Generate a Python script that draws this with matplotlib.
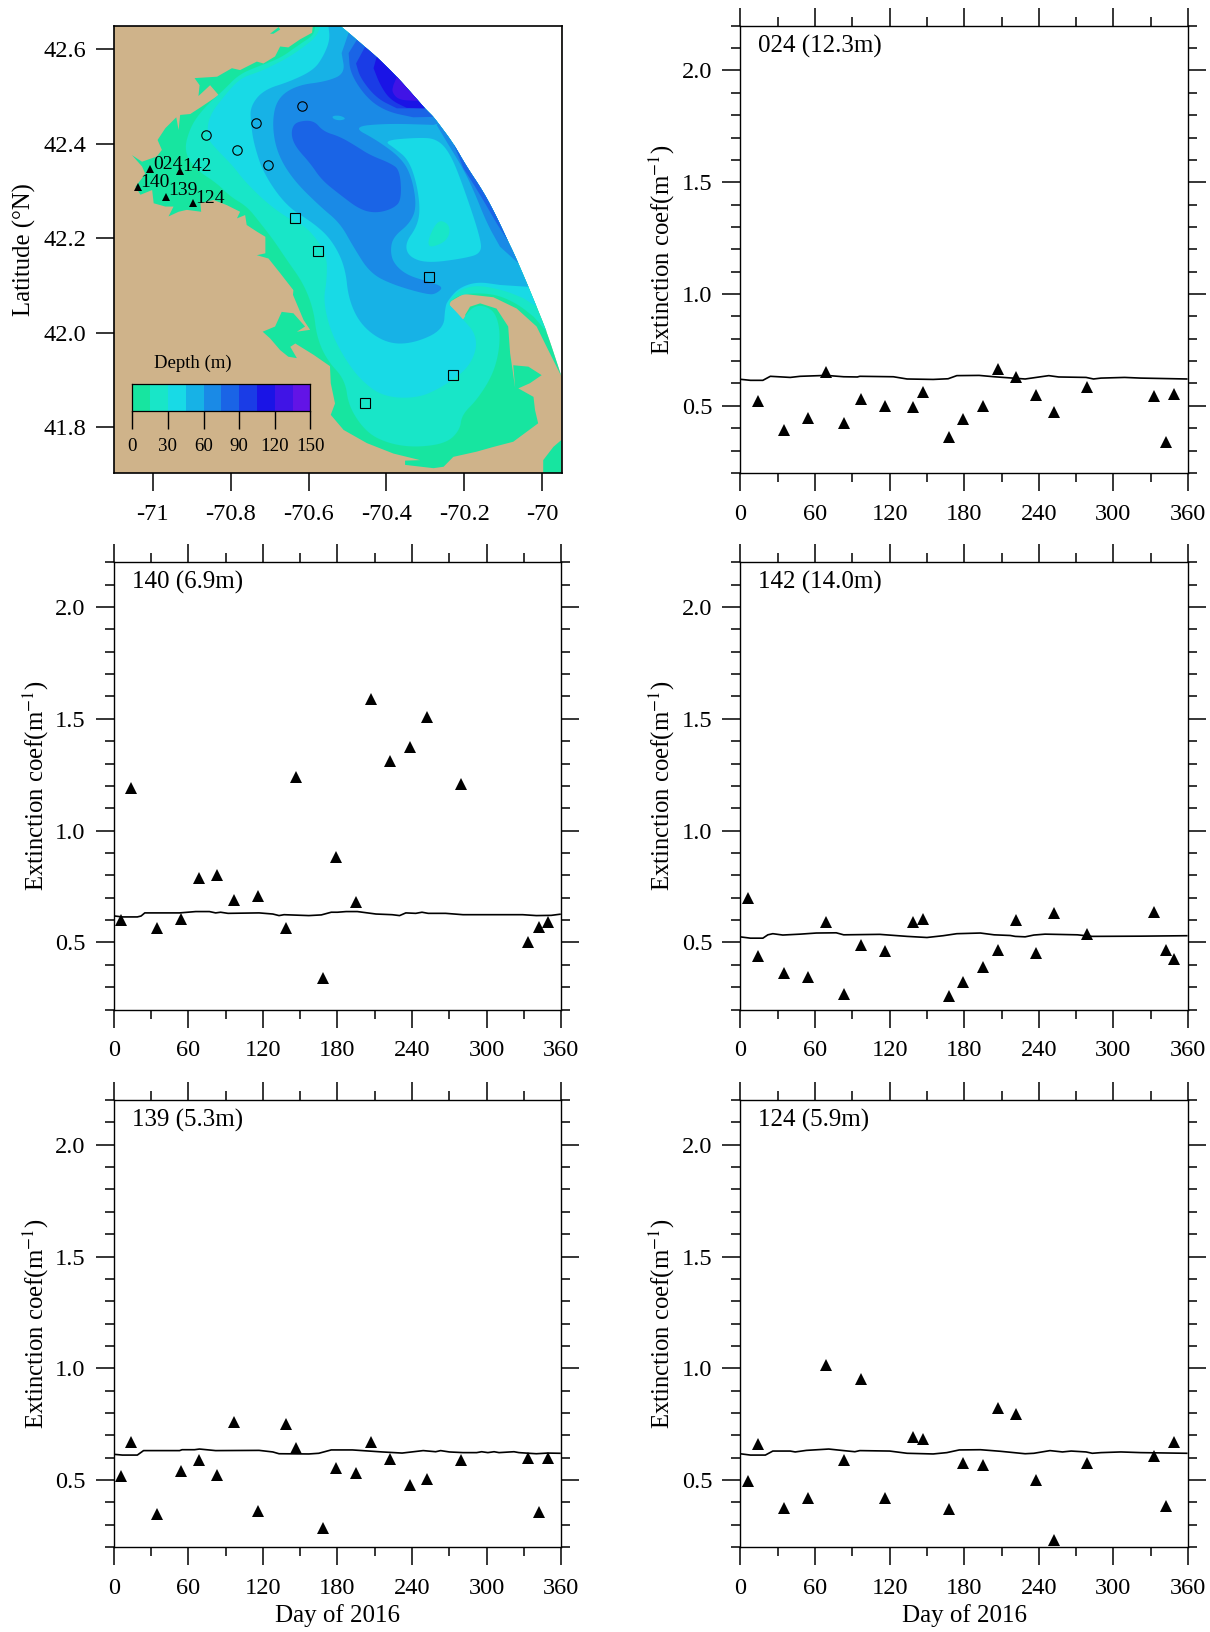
#!/usr/bin/env python3
# -*- coding:utf-8 -*-
from matplotlib import pyplot as plt
from matplotlib.colors import ListedColormap, BoundaryNorm
import numpy as np

plt.rcParams['font.family'] = ['Liberation Serif', 'DejaVu Serif']
plt.rcParams['mathtext.fontset'] = 'stix'
plt.rcParams['axes.unicode_minus'] = False

LAND = '#CFB38A'
depth_levels = [0, 15, 30, 45, 60, 75, 90, 105, 120, 135, 150]
depth_ticks = [0, 30, 60, 90, 120, 150]
depth_colors = ['#17E5A0', '#18E6C8', '#18DAE6', '#17B2E6', '#1A8AE6',
                '#1A64E6', '#1A3CE6', '#1A14E6', '#4014E6', '#6214E6']

# model domain boundary, north to south
arc = [(-70.519, 42.65), (-70.497, 42.635), (-70.476, 42.620), (-70.455, 42.605), (-70.425, 42.584),
       (-70.373, 42.542), (-70.318, 42.491), (-70.301, 42.475), (-70.279, 42.457), (-70.266, 42.443),
       (-70.228, 42.401), (-70.194, 42.352), (-70.151, 42.299), (-70.117, 42.246), (-70.087, 42.193),
       (-70.074, 42.171), (-70.061, 42.147), (-70.035, 42.097), (-70.014, 42.055), (-69.988, 42.002),
       (-69.950, 41.907)]

# shoreline, from the tip of the cape round the bays and back north
coast = [(-69.984, 41.963), (-70.014, 42.013), (-70.065, 42.051), (-70.125, 42.075), (-70.202, 42.082),
         (-70.242, 42.063), (-70.228, 42.048), (-70.206, 42.023), (-70.181, 42.020), (-70.168, 42.030),
         (-70.189, 42.030), (-70.198, 42.037), (-70.185, 42.055), (-70.159, 42.062), (-70.117, 42.051),
         (-70.087, 42.013), (-70.082, 41.956), (-70.069, 41.882), (-70.074, 41.931), (-70.035, 41.928),
         (-70.001, 41.910), (-70.031, 41.893), (-70.061, 41.882), (-70.022, 41.864), (-70.018, 41.836),
         (-70.010, 41.808), (-70.074, 41.769), (-70.125, 41.758), (-70.168, 41.748), (-70.228, 41.737),
         (-70.253, 41.716), (-70.279, 41.713), (-70.352, 41.720), (-70.352, 41.729), (-70.313, 41.730),
         (-70.382, 41.744), (-70.450, 41.766), (-70.510, 41.794), (-70.543, 41.826), (-70.532, 41.850),
         (-70.543, 41.893), (-70.545, 41.929), (-70.587, 41.953), (-70.634, 41.977), (-70.647, 41.970),
         (-70.630, 41.946), (-70.652, 41.949), (-70.673, 41.963), (-70.699, 41.988), (-70.718, 42.002),
         (-70.686, 42.013), (-70.669, 42.044), (-70.639, 42.041), (-70.609, 42.013), (-70.630, 42.002),
         (-70.596, 42.006), (-70.613, 42.027), (-70.640, 42.080), (-70.639, 42.090), (-70.673, 42.126),
         (-70.703, 42.157), (-70.733, 42.164), (-70.711, 42.168), (-70.711, 42.203), (-70.733, 42.214),
         (-70.759, 42.228), (-70.763, 42.249), (-70.784, 42.242), (-70.776, 42.256), (-70.810, 42.270),
         (-70.844, 42.281), (-70.878, 42.274), (-70.876, 42.256), (-70.913, 42.260), (-70.934, 42.256),
         (-70.960, 42.246), (-70.947, 42.267), (-70.968, 42.267), (-70.998, 42.274), (-71.002, 42.302),
         (-71.032, 42.292), (-71.045, 42.309), (-71.028, 42.327), (-71.020, 42.337), (-71.028, 42.352),
         (-71.054, 42.376), (-71.028, 42.362), (-70.990, 42.373), (-70.977, 42.387), (-70.988, 42.408),
         (-70.968, 42.433), (-70.940, 42.456), (-70.934, 42.429), (-70.930, 42.461), (-70.904, 42.463),
         (-70.874, 42.479), (-70.831, 42.503), (-70.853, 42.524), (-70.883, 42.501), (-70.880, 42.524),
         (-70.893, 42.539), (-70.835, 42.542), (-70.797, 42.560), (-70.776, 42.556), (-70.733, 42.574),
         (-70.716, 42.570), (-70.686, 42.585), (-70.673, 42.606), (-70.652, 42.604), (-70.622, 42.621),
         (-70.591, 42.635), (-70.589, 42.65)]
patch_se = [(-69.997, 41.70), (-69.997, 41.730), (-69.971, 41.758), (-69.950, 41.773), (-69.950, 41.70)]
patch_top = [(-70.699, 42.633), (-70.677, 42.647), (-70.673, 42.642), (-70.690, 42.633)]

edge_15 = [(-70.583, 42.65), (-70.587, 42.630), (-70.626, 42.609), (-70.673, 42.581), (-70.733, 42.563),
           (-70.780, 42.546), (-70.818, 42.514), (-70.870, 42.475), (-70.904, 42.436), (-70.921, 42.383),
           (-70.887, 42.344), (-70.835, 42.316), (-70.801, 42.288), (-70.758, 42.267), (-70.724, 42.232),
           (-70.690, 42.196), (-70.656, 42.154), (-70.613, 42.104), (-70.587, 42.048), (-70.579, 41.991),
           (-70.553, 41.942), (-70.506, 41.900), (-70.497, 41.843), (-70.450, 41.787), (-70.390, 41.764),
           (-70.322, 41.757), (-70.245, 41.766), (-70.211, 41.794), (-70.206, 41.826), (-70.168, 41.857),
           (-70.129, 41.907), (-70.111, 41.956), (-70.108, 42.006), (-70.121, 42.044), (-70.151, 42.058),
           (-70.176, 42.055), (-70.195, 42.039), (-70.206, 42.023), (-70.228, 42.048), (-70.242, 42.063),
           (-70.206, 42.083), (-70.125, 42.083), (-70.065, 42.062), (-70.022, 42.034)]
edge_30 = [(-70.570, 42.65), (-70.579, 42.627), (-70.622, 42.599), (-70.664, 42.577), (-70.724, 42.553),
           (-70.776, 42.539), (-70.818, 42.500), (-70.857, 42.457), (-70.861, 42.412), (-70.835, 42.387),
           (-70.793, 42.352), (-70.767, 42.323), (-70.707, 42.274), (-70.647, 42.239), (-70.604, 42.224),
           (-70.553, 42.168), (-70.553, 42.111), (-70.562, 42.069), (-70.545, 42.006), (-70.510, 41.949),
           (-70.467, 41.900), (-70.408, 41.864), (-70.322, 41.861), (-70.262, 41.882), (-70.194, 41.921),
           (-70.168, 41.963), (-70.172, 41.999), (-70.202, 42.027), (-70.228, 42.051), (-70.245, 42.062),
           (-70.215, 42.090), (-70.168, 42.101), (-70.099, 42.090), (-70.048, 42.073)]
edge_45 = [(-70.549, 42.65), (-70.545, 42.620), (-70.562, 42.585), (-70.587, 42.556), (-70.647, 42.532),
           (-70.716, 42.514), (-70.750, 42.479), (-70.748, 42.443), (-70.741, 42.401), (-70.716, 42.337),
           (-70.656, 42.267), (-70.587, 42.232), (-70.540, 42.196), (-70.506, 42.140), (-70.497, 42.069),
           (-70.463, 42.013), (-70.399, 41.977), (-70.331, 41.977), (-70.253, 42.006), (-70.249, 42.055),
           (-70.241, 42.069), (-70.215, 42.094), (-70.168, 42.108), (-70.108, 42.101)]
edge_60 = [(-70.279, 42.440), (-70.399, 42.443), (-70.489, 42.436), (-70.425, 42.408), (-70.361, 42.369),
           (-70.335, 42.330), (-70.322, 42.267), (-70.339, 42.232), (-70.382, 42.203), (-70.390, 42.175),
           (-70.382, 42.147), (-70.348, 42.122), (-70.292, 42.108), (-70.253, 42.097), (-70.271, 42.083),
           (-70.292, 42.080), (-70.382, 42.101), (-70.442, 42.126), (-70.485, 42.182), (-70.519, 42.232),
           (-70.570, 42.267), (-70.639, 42.323), (-70.681, 42.380), (-70.694, 42.443), (-70.681, 42.496),
           (-70.630, 42.524), (-70.553, 42.532), (-70.506, 42.549), (-70.515, 42.592)]
east_60 = [(-70.108, 42.182), (-70.142, 42.232), (-70.176, 42.302), (-70.206, 42.352), (-70.245, 42.404),
           (-70.271, 42.440)]
east_75 = [(-70.117, 42.232), (-70.159, 42.292), (-70.202, 42.348)]
basin_75 = [(-70.643, 42.433), (-70.630, 42.447), (-70.587, 42.450), (-70.562, 42.426), (-70.519, 42.415),
            (-70.476, 42.394), (-70.442, 42.376), (-70.390, 42.359), (-70.365, 42.344), (-70.361, 42.281),
            (-70.382, 42.263), (-70.425, 42.253), (-70.467, 42.260), (-70.519, 42.292), (-70.566, 42.323),
            (-70.596, 42.359), (-70.630, 42.390), (-70.643, 42.412)]
north_75 = [(-70.331, 42.456), (-70.399, 42.468), (-70.450, 42.496), (-70.493, 42.549), (-70.497, 42.592)]
north_90 = [(-70.373, 42.475), (-70.425, 42.496), (-70.467, 42.539), (-70.478, 42.570)]
north_105 = [(-70.348, 42.476), (-70.390, 42.493), (-70.416, 42.524), (-70.433, 42.560)]
north_120 = [(-70.326, 42.491), (-70.369, 42.493), (-70.386, 42.510), (-70.382, 42.524)]
spot_45 = [(-70.540, 42.459), (-70.519, 42.460), (-70.503, 42.453), (-70.519, 42.449), (-70.536, 42.452)]
bank_30 = [(-70.408, 42.407), (-70.322, 42.413), (-70.271, 42.411), (-70.236, 42.380), (-70.202, 42.309),
           (-70.159, 42.203), (-70.155, 42.168), (-70.202, 42.157), (-70.296, 42.147), (-70.343, 42.161),
           (-70.352, 42.189), (-70.322, 42.224), (-70.313, 42.260), (-70.322, 42.316), (-70.343, 42.366),
           (-70.378, 42.390)]
bank_15 = [(-70.301, 42.178), (-70.271, 42.239), (-70.241, 42.232), (-70.236, 42.210), (-70.253, 42.189)]

circle_lon = [-70.617, -70.736, -70.864, -70.785, -70.705]
circle_lat = [42.479, 42.443, 42.419, 42.387, 42.356]
square_lon = [-70.636, -70.576, -70.290, -70.228, -70.454]
square_lat = [42.243, 42.172, 42.117, 41.910, 41.851]
station_names = ['024', '142', '140', '139', '124']
station_lon = [-71.008, -70.931, -71.039, -70.967, -70.896]
station_lat = [42.347, 42.342, 42.308, 42.288, 42.275]
station_text_lon = [-71.000, -70.924, -71.033, -70.960, -70.890]
station_text_lat = [42.357, 42.351, 42.319, 42.300, 42.284]

lat_ticks = [41.8, 42.0, 42.2, 42.4, 42.6]
lon_ticks = [-71, -70.8, -70.6, -70.4, -70.2, -70]
lon_labels = ['-71', '-70.8', '-70.6', '-70.4', '-70.2', '-70']

days = [6, 14, 35, 54, 69, 83, 97, 116, 139, 147, 168, 179, 195, 207, 222, 238, 252, 279, 333, 342, 349]

obs_024 = [0.522, 0.392, 0.445, 0.651, 0.424, 0.530, 0.500, 0.494, 0.560, 0.360, 0.439, 0.500, 0.665,
           0.629, 0.550, 0.473, 0.582, 0.545, 0.338, 0.554]
obs_140 = [0.600, 1.190, 0.566, 0.605, 0.790, 0.803, 0.690, 0.708, 0.563, 1.239, 0.341, 0.884, 0.680,
           1.587, 1.311, 1.374, 1.506, 1.209, 0.500, 0.570, 0.590]
obs_142 = [0.700, 0.440, 0.362, 0.346, 0.593, 0.268, 0.490, 0.461, 0.590, 0.606, 0.260, 0.325, 0.392,
           0.467, 0.600, 0.454, 0.630, 0.537, 0.636, 0.467, 0.426]
obs_139 = [0.518, 0.672, 0.347, 0.540, 0.591, 0.525, 0.760, 0.360, 0.749, 0.645, 0.287, 0.555, 0.530,
           0.671, 0.593, 0.480, 0.507, 0.590, 0.600, 0.359, 0.600]
obs_124 = [0.497, 0.662, 0.377, 0.422, 1.017, 0.590, 0.954, 0.420, 0.692, 0.684, 0.370, 0.575, 0.569,
           0.824, 0.794, 0.500, 0.230, 0.575, 0.610, 0.385, 0.670]

model_024_d = [1, 8, 18, 24, 40, 48, 69, 83, 94, 96, 123, 134, 155, 167, 174, 192, 204, 229, 248, 256, 278,
               284, 290, 309, 322, 359]
model_024 = [.618, .614, .614, .632, .627, .632, .636, .630, .629, .632, .630, .620, .618, .621, .635, .636,
             .630, .620, .635, .629, .627, .620, .624, .627, .624, .620]
model_140_d = [1, 7, 19, 22, 25, 53, 66, 77, 82, 86, 92, 117, 128, 133, 137, 157, 167, 175, 180, 187, 196,
               211, 224, 230, 235, 243, 248, 253, 267, 281, 329, 340, 352, 359]
model_140 = [.618, .614, .614, .618, .632, .632, .638, .638, .632, .635, .630, .632, .627, .620, .624, .620,
             .623, .635, .635, .638, .638, .627, .624, .620, .632, .630, .635, .630, .630, .624, .624, .620,
             .621, .626]
model_142_d = [1, 8, 18, 22, 26, 34, 48, 61, 77, 83, 112, 134, 150, 163, 174, 193, 204, 217, 221, 229, 236,
               245, 271, 283, 322, 359]
model_142 = [.524, .519, .519, .534, .539, .533, .537, .542, .543, .534, .536, .527, .522, .530, .539, .542,
             .534, .531, .527, .525, .533, .537, .534, .527, .528, .530]
model_139_d = [1, 7, 19, 24, 53, 55, 65, 69, 82, 117, 128, 133, 157, 165, 175, 192, 216, 232, 249, 259, 263,
               270, 281, 292, 296, 301, 306, 310, 322, 326, 340, 349, 359]
model_139 = [.615, .612, .612, .632, .632, .636, .636, .639, .632, .633, .626, .618, .617, .620, .635, .635,
             .626, .621, .632, .627, .632, .626, .623, .623, .627, .623, .627, .623, .627, .623, .618, .621,
             .620]
model_124_d = [1, 8, 20, 26, 40, 44, 53, 71, 83, 92, 96, 120, 134, 155, 166, 176, 193, 209, 229, 236, 249,
               259, 266, 278, 283, 290, 306, 322, 359]
model_124 = [.617, .612, .612, .630, .630, .626, .633, .639, .632, .627, .632, .630, .620, .617, .623, .635,
             .636, .629, .618, .620, .632, .626, .630, .626, .620, .623, .626, .623, .620]

panels = [('024 (12.3m)', days[1:], obs_024, model_024_d, model_024, 740.5, 25.7, False),
          ('140 (6.9m)', days, obs_140, model_140_d, model_140, 113.7, 562.3, False),
          ('142 (14.0m)', days, obs_142, model_142_d, model_142, 740.5, 562.3, False),
          ('139 (5.3m)', days, obs_139, model_139_d, model_139, 113.7, 1100, True),
          ('124 (5.9m)', days, obs_124, model_124_d, model_124, 740.5, 1100, True)]

W, H = 1210, 1632
fig = plt.figure(figsize=(W / 100, H / 100), dpi=100)


def add_axes(left, top, width=447.5, height=447.2):
    return fig.add_axes([left / W, 1 - (top + height) / H, width / W, height / H])


def fill(ax, points, color):
    xs, ys = zip(*points)
    ax.fill(xs, ys, color=color, lw=0)


def smooth(points, closed=False, rounds=3):
    # corner cutting, so the contour edges do not look like polygons
    pts = np.array(points + points[:1] if closed else points)
    for _ in range(rounds):
        a = pts[:-1] * 0.75 + pts[1:] * 0.25
        b = pts[:-1] * 0.25 + pts[1:] * 0.75
        mid = np.empty((len(a) * 2, 2))
        mid[0::2] = a
        mid[1::2] = b
        pts = mid if closed else np.vstack([pts[:1], mid, pts[-1:]])
        if closed:
            pts = np.vstack([pts, pts[:1]])
    return [tuple(p) for p in pts]


# map
ax = add_axes(114, 25.7)
ax.set_facecolor(LAND)
fill(ax, smooth(arc) + [(-69.95, 42.65)], 'white')
fill(ax, [(-70.589, 42.65)] + smooth(arc) + coast, depth_colors[0])
fill(ax, patch_se, depth_colors[0])
fill(ax, patch_top, depth_colors[0])
fill(ax, smooth(edge_15) + smooth(arc[19::-1]), depth_colors[1])
fill(ax, smooth(edge_30) + smooth(arc[18::-1]), depth_colors[2])
fill(ax, smooth(edge_45) + smooth(arc[17::-1]), depth_colors[3])
fill(ax, smooth(arc[1:10]) + smooth(edge_60), depth_colors[4])
fill(ax, smooth(arc[9:17]) + smooth(east_60), depth_colors[4])
fill(ax, smooth(arc[10:15]) + smooth(east_75), depth_colors[5])
fill(ax, smooth(basin_75, closed=True), depth_colors[5])
fill(ax, smooth(arc[2:9]) + smooth(north_75), depth_colors[5])
fill(ax, smooth(arc[3:8]) + smooth(north_90), depth_colors[6])
fill(ax, smooth(arc[4:8]) + smooth(north_105), depth_colors[7])
fill(ax, smooth(arc[5:7]) + smooth(north_120), depth_colors[8])
fill(ax, smooth(spot_45, closed=True), depth_colors[3])
fill(ax, smooth(bank_30, closed=True), depth_colors[2])
fill(ax, smooth(bank_15, closed=True), depth_colors[1])

ax.plot(circle_lon, circle_lat, 'o', ms=6.8, mfc='none', mec='black', mew=0.8)
ax.plot(square_lon, square_lat, 's', ms=6.8, mfc='none', mec='black', mew=0.8)
ax.plot(station_lon, station_lat, '^', ms=5.2, color='black', mew=0)
for name, x, y in zip(station_names, station_text_lon, station_text_lat):
    ax.text(x, y, name, fontsize=14, ha='left', va='center')
ax.text(-70.998, 41.934, 'Depth (m)', fontsize=13.5, ha='left', va='center')

ax.set_xlim(-71.1, -69.95)
ax.set_ylim(41.703, 42.65)
ax.set_xticks(lon_ticks)
ax.set_xticklabels(lon_labels)
ax.set_yticks(lat_ticks)
ax.set_yticklabels(['%.1f' % v for v in lat_ticks])
ax.tick_params(length=13.2, width=1.1, labelsize=17.6)
ax.tick_params(axis='x', pad=9)
ax.tick_params(axis='y', pad=7)
ax.set_ylabel('Latitude (°N)', fontsize=17.8)
ax.yaxis.set_label_coords(-0.175, 0.5)
for spine in ax.spines.values():
    spine.set_linewidth(1.2)

# depth scale inside the map
cax = ax.inset_axes([0.041, 0.1387, 0.398, 0.059])
cax.pcolormesh(depth_levels, [0, 1], [depth_levels[:-1]],
               cmap=ListedColormap(depth_colors), norm=BoundaryNorm(depth_levels, 10))
cax.set_xticks(depth_ticks)
cax.set_yticks([])
cax.tick_params(axis='x', length=12.7, width=1.0, labelsize=13.6, pad=7)
for spine in cax.spines.values():
    spine.set_linewidth(0.9)

# time series panels
for title, x, y, model_x, model_y, left, top, last_row in panels:
    ax = add_axes(left, top)
    ax.plot(model_x, model_y, color='black', lw=1.2)
    ax.plot(x, y, '^', ms=8.8, color='black', mew=0)
    ax.set_xlim(0, 360)
    ax.set_ylim(0.2, 2.2)
    ax.set_xticks(np.arange(0, 361, 60))
    ax.set_xticks(np.arange(0, 361, 30), minor=True)
    ax.set_yticks([0.5, 1.0, 1.5, 2.0])
    ax.set_yticks(np.arange(0.2, 2.21, 0.1), minor=True)
    ax.tick_params(which='both', direction='out', top=True, right=True, width=1.1)
    ax.tick_params(which='major', length=13.2, labelsize=17.6)
    ax.tick_params(which='minor', length=6.5)
    ax.tick_params(axis='x', which='major', pad=9)
    ax.tick_params(axis='y', which='major', pad=7)
    ax.set_ylabel(r'Extinction coef(m$^{-1}$)', fontsize=17.8)
    ax.yaxis.set_label_coords(-0.141, 0.5)
    ax.text(0.04, 0.954, title, transform=ax.transAxes, fontsize=18, ha='left', va='center')
    if last_row:
        ax.set_xlabel('Day of 2016', fontsize=18)
        ax.xaxis.set_label_coords(0.5, -0.126)
    for spine in ax.spines.values():
        spine.set_linewidth(1.0)

fig.savefig('out.png', dpi=100)
